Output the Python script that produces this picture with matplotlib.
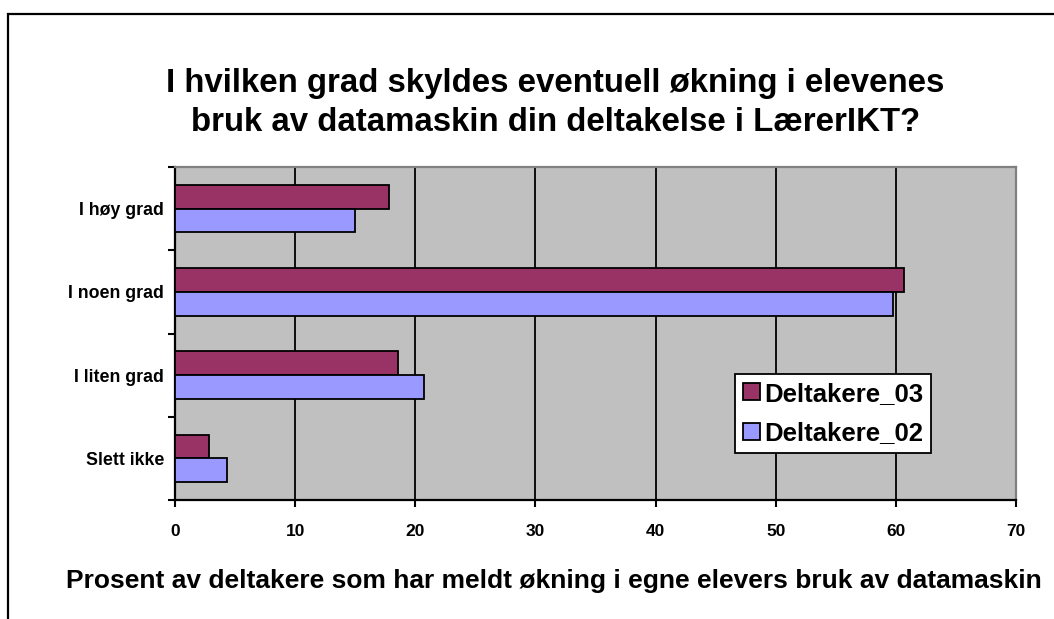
import numpy as np
import matplotlib.pyplot as plt
from matplotlib.patches import Rectangle

plt.rcParams['font.family'] = ['Liberation Sans', 'DejaVu Sans']
plt.rcParams['font.weight'] = 'bold'

categories = ["I høy grad", "I noen grad", "I liten grad", "Slett ikke"]
deltakere_03 = [17.8, 60.7, 18.6, 2.8]
deltakere_02 = [15.0, 59.8, 20.7, 4.3]
xticks = [0, 10, 20, 30, 40, 50, 60, 70]

fig = plt.figure(figsize=(10.54, 6.19), dpi=100)
fig.patch.set_facecolor('white')

# outer chart frame (runs off the right and bottom edges)
fig.patches.append(Rectangle((8 / 1054, -0.1), 1.2, 1 - 14 / 619 + 0.1,
                             transform=fig.transFigure, fill=False,
                             edgecolor='black', linewidth=1.6, clip_on=False))

ax = fig.add_axes([175 / 1054, 119 / 619, 841 / 1054, 333 / 619])
ax.set_facecolor('#C0C0C0')

y = np.arange(len(categories))[::-1]
h = 0.286
ax.barh(y + h / 2, deltakere_03, height=h, color='#993366',
        edgecolor='black', linewidth=1.3, label='Deltakere_03', zorder=3)
ax.barh(y - h / 2, deltakere_02, height=h, color='#9999FF',
        edgecolor='black', linewidth=1.3, label='Deltakere_02', zorder=3)

ax.set_xlim(0, 70)
ax.set_ylim(-0.5, len(categories) - 0.5)
ax.set_xticks(xticks)
ax.set_xticklabels([str(t) for t in xticks], fontsize=12.5, fontweight='bold')
ax.xaxis.grid(True, color='black', linewidth=1.3, zorder=1)
ax.set_axisbelow(True)

ax.set_yticks(np.arange(-0.5, len(categories), 1.0))
ax.set_yticklabels([])
ax.set_yticks(y, minor=True)
ax.set_yticklabels(categories, minor=True, fontsize=12.8, fontweight='bold')
ax.tick_params(axis='y', which='minor', length=0, pad=8)
ax.tick_params(axis='y', which='major', length=5, width=1.5, direction='out')
ax.tick_params(axis='x', length=5, width=1.5, direction='out', pad=12)

for side in ('left', 'bottom'):
    ax.spines[side].set_color('black')
    ax.spines[side].set_linewidth(1.6)
for side in ('top', 'right'):
    ax.spines[side].set_color('#808080')
    ax.spines[side].set_linewidth(1.6)

leg = ax.legend(loc='lower left', bbox_to_anchor=(0.666, 0.141),
                borderaxespad=0, fancybox=False, shadow=False,
                framealpha=1, edgecolor='black',
                prop={'size': 18.5, 'weight': 'bold'},
                handlelength=0.65, handleheight=0.65, handletextpad=0.2,
                labelspacing=0.6, borderpad=0.3)
leg.get_frame().set_linewidth(1.3)

fig.text(0.527, 1 - 103 / 619,
         "I hvilken grad skyldes eventuell økning i elevenes\n"
         "bruk av datamaskin din deltakelse i LærerIKT?",
         ha='center', va='center', fontsize=23.8, fontweight='bold',
         linespacing=1.3)
fig.text(554 / 1054, 1 - 581 / 619,
         "Prosent av deltakere som har meldt økning i egne elevers bruk av datamaskin",
         ha='center', va='center', fontsize=19, fontweight='bold')

fig.savefig('out.png', dpi=100)
